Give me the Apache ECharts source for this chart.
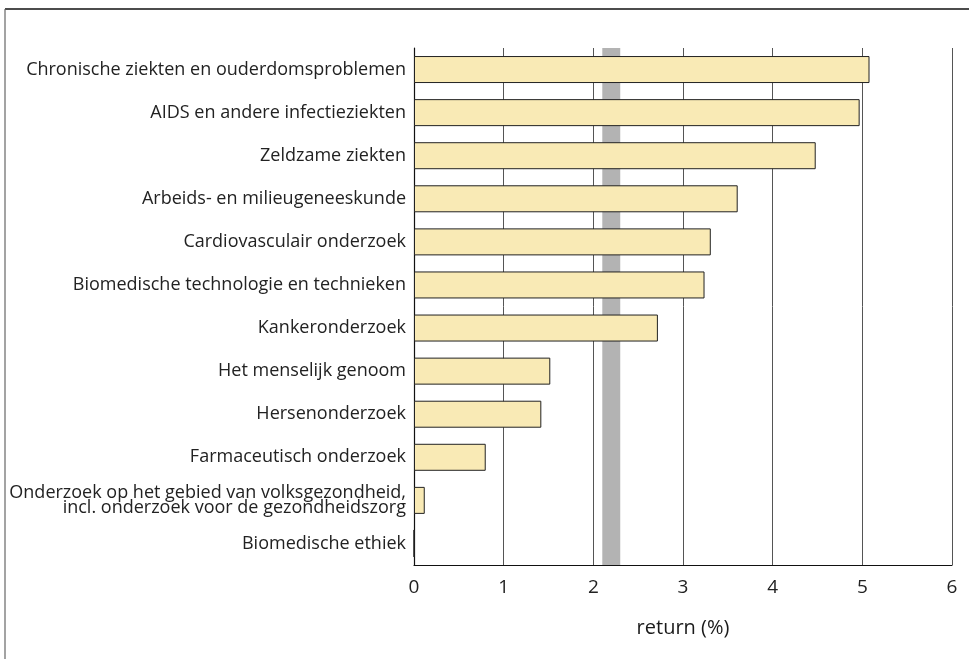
<!DOCTYPE html>
<html>
<head>
<meta charset="utf-8">
<script src="https://cdn.jsdelivr.net/npm/echarts@6/dist/echarts.min.js"></script>
<style>
  html, body { margin: 0; padding: 0; background: #fff; }
  #chart { width: 969px; height: 659px; }
</style>
</head>
<body>
<div id="chart"></div>
<script>
// Research fields, top to bottom
const categories = [
  'Chronische ziekten en ouderdomsproblemen',
  'AIDS en andere infectieziekten',
  'Zeldzame ziekten',
  'Arbeids- en milieugeneeskunde',
  'Cardiovasculair onderzoek',
  'Biomedische technologie en technieken',
  'Kankeronderzoek',
  'Het menselijk genoom',
  'Hersenonderzoek',
  'Farmaceutisch onderzoek',
  'Onderzoek op het gebied van volksgezondheid,\nincl. onderzoek voor de gezondheidszorg',
  'Biomedische ethiek'
];
// Return per field (%)
const returnValues = [5.08, 4.97, 4.48, 3.61, 3.31, 3.24, 2.72, 1.52, 1.42, 0.80, 0.12, 0];
// Reference band on the return axis (%)
const bandRange = [2.1, 2.3];
const xTicks = [0, 1, 2, 3, 4, 5, 6];

const FONT = 'Open Sans';
const chart = echarts.init(document.getElementById('chart'));

chart.setOption({
  animation: false,
  textStyle: { fontFamily: FONT },
  grid: { left: 414, right: 17, top: 48, bottom: 94, containLabel: false },
  xAxis: {
    type: 'value',
    min: xTicks[0],
    max: xTicks[xTicks.length - 1],
    interval: 1,
    name: 'return (%)',
    nameLocation: 'middle',
    nameGap: 53,
    nameTextStyle: { fontFamily: FONT, fontSize: 20, color: '#1a1a1a' },
    axisLine: { show: true, lineStyle: { color: '#111', width: 1.2 } },
    axisTick: { show: false },
    axisLabel: { fontFamily: FONT, fontSize: 19, color: '#222', margin: 13 },
    splitLine: { show: true, lineStyle: { color: '#555', width: 1 } }
  },
  yAxis: {
    type: 'category',
    data: categories,
    inverse: true,
    axisLine: { show: true, lineStyle: { color: '#111', width: 1.2 } },
    axisTick: { show: false },
    axisLabel: { fontFamily: FONT, fontSize: 18, color: '#222', margin: 8, lineHeight: 15, align: 'right' },
    splitLine: { show: false }
  },
  series: [
    {
      type: 'bar',
      z: 1,
      data: [],
      markArea: {
        silent: true,
        itemStyle: { color: '#b3b3b3' },
        data: [[{ xAxis: bandRange[0] }, { xAxis: bandRange[1] }]]
      }
    },
    {
      type: 'bar',
      z: 3,
      data: returnValues,
      barWidth: 27,
      itemStyle: { color: '#f9eab5', borderColor: '#222', borderWidth: 1 }
    }
  ],
  graphic: [
    {
      type: 'line',
      shape: { x1: 5, y1: 9, x2: 969, y2: 9 },
      style: { stroke: '#111', lineWidth: 1.5 }
    },
    {
      type: 'line',
      shape: { x1: 5, y1: 9, x2: 5, y2: 659 },
      style: { stroke: '#666', lineWidth: 1.2 }
    }
  ]
});
</script>
</body>
</html>
